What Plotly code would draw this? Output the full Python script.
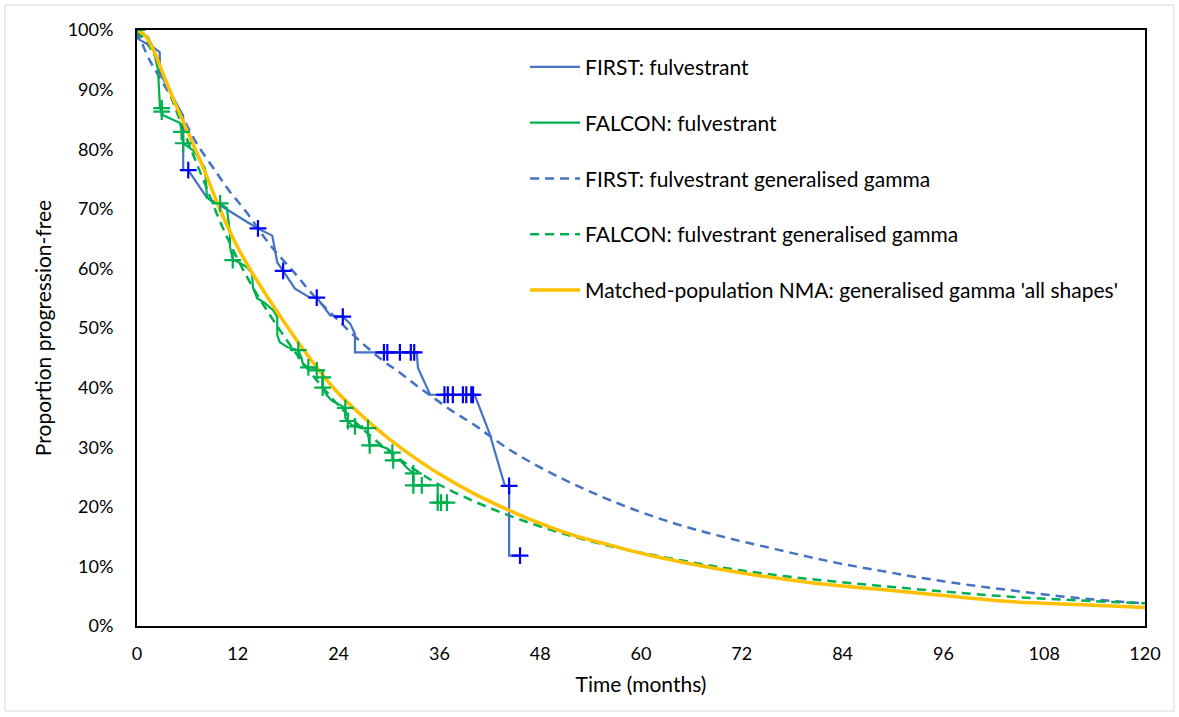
import plotly.graph_objects as go

# ---------------- data ----------------
# FIRST: fulvestrant (digitised Kaplan-Meier, months / % progression-free)
first_t = [0, 0.15, 2.1, 2.7, 2.75, 5.1, 5.5, 5.5, 6.1, 8.3, 9.9, 13.2, 14.4, 16.1, 16.7, 17.4,
           18.8, 20.6, 21.4, 23.0, 24.5, 25.4, 25.95, 25.95, 33.3, 33.45, 34.9, 40.2, 42.0, 43.8,
           44.3, 44.3, 45.6]
first_s = [100, 98.5, 96.9, 96.3, 92.7, 86.5, 85.6, 76.5, 76.5, 71.9, 70.6, 67.7, 66.7, 65.5, 61.0, 59.6,
           56.6, 55.1, 55.1, 52.1, 51.9, 50.7, 49.0, 45.9, 45.9, 43.3, 38.8, 38.8, 32.2, 23.5,
           23.5, 11.8, 11.8]
first_cens_t = [6.1, 14.4, 17.4, 21.4, 24.5, 29.4, 29.8, 31.3, 32.6, 33.0,
                36.6, 37.0, 37.6, 38.8, 39.2, 39.8, 40.0, 44.3, 45.6]
first_cens_s = [76.5, 66.7, 59.6, 55.1, 51.9, 45.9, 45.9, 45.9, 45.9, 45.9,
                38.8, 38.8, 38.8, 38.8, 38.8, 38.8, 38.8, 23.5, 11.8]

# FALCON: fulvestrant (digitised Kaplan-Meier)
falcon_t = [0, 0.7, 1.3, 1.9, 2.5, 2.74, 2.98, 3.1, 5.12, 5.36, 5.48, 6.67, 7.26, 8.1, 8.33, 9.05,
            9.88, 10.7, 11.07, 11.07, 11.43, 12.0, 13.1, 13.7, 13.8, 14.3, 15.2, 16.2, 16.7, 16.7,
            17.0, 17.9, 19.2, 19.6, 19.8, 20.4, 21.0, 21.4, 22.0, 22.1, 22.1, 22.6, 23.2, 23.9,
            24.8, 24.8, 25.1, 25.6, 25.95, 26.8, 27.5, 27.5, 27.7, 28.7, 29.8, 30.4, 30.5, 31.3,
            32.1, 32.9, 32.9, 35.8, 35.8, 36.9]
falcon_s = [100, 99.5, 98.8, 97.1, 93.3, 86.9, 86.2, 85.7, 84.4, 82.9, 81.0, 79.8, 78.7, 76.8, 71.9, 71.1,
            70.9, 70.1, 65.9, 63.6, 61.4, 61.1, 60.2, 59.2, 56.8, 55.0, 54.2, 53.0, 51.8, 48.8,
            47.6, 46.8, 46.3, 44.9, 43.8, 43.4, 43.3, 42.9, 42.6, 41.7, 40.0, 38.7, 37.8, 37.3,
            36.6, 34.9, 34.4, 33.7, 33.5, 33.2, 33.2, 32.3, 30.3, 30.3, 29.8, 29.1, 27.8, 27.8,
            26.6, 25.6, 23.6, 23.6, 20.7, 20.7]
falcon_cens_t = [0, 2.94, 2.94, 5.3, 5.5, 9.9, 11.4, 19.2, 20.4, 21.4, 22.1, 22.1, 24.8, 25.1,
                 25.95, 27.5, 27.7, 30.4, 30.5, 32.9, 32.9, 33.9, 35.8, 36.2, 36.9]
falcon_cens_s = [100, 86.9, 86.3, 82.9, 81.0, 70.9, 61.4, 46.3, 43.4, 42.9, 41.7, 40.0, 36.6, 34.4,
                 33.5, 33.2, 30.3, 29.1, 27.8, 25.6, 23.6, 23.6, 20.7, 20.7, 20.7]

# FIRST: fulvestrant generalised gamma
first_gg_t = [0, 1.3, 2.5, 4.8, 7.1, 9.5, 11, 13, 15.8, 18.6, 21, 23.8, 26, 29.3, 31.3, 33.3, 35.2,
              37.6, 40, 44, 48, 52, 56, 60, 64, 68, 72, 76, 80, 84, 88, 92, 96, 100, 104, 108,
              112, 116, 120]
first_gg_s = [100, 95.5, 92.5, 87, 81, 76, 73, 69.5, 64, 59.5, 55.5, 51.5, 48.5, 44.5, 42.5, 40.3, 38.4,
              36, 33.9, 29.9, 26.6, 23.8, 21.3, 19.1, 17.2, 15.6, 14.2, 12.9, 11.6, 10.4, 9.4, 8.4,
              7.5, 6.7, 6.0, 5.3, 4.7, 4.2, 3.8]

# FALCON: fulvestrant generalised gamma
falcon_gg_t = [0, 2, 4, 6, 8, 10, 12, 14, 16, 18, 20, 22, 24, 27, 30, 33, 36, 40, 44, 48, 52, 56, 60,
               66, 72, 80, 88, 96, 104, 112, 120]
falcon_gg_s = [100, 96, 89, 81.5, 74.5, 67.5, 61.5, 56.3, 51.8, 47.6, 43.7, 40.2, 37, 32.9, 29.3, 26.3,
               23.7, 21.0, 18.7, 16.7, 15.0, 13.5, 12.3, 10.7, 9.3, 7.9, 6.8, 5.8, 4.9, 4.3, 3.8]

# Matched-population NMA: generalised gamma 'all shapes'
nma_t = [0, 1, 2, 3, 4, 6, 8, 10, 12, 14, 16, 18, 20, 22, 24, 27, 30, 33, 36, 40, 44, 48, 52, 56, 60,
         66, 72, 80, 88, 96, 104, 112, 120]
nma_s = [100, 99, 96.5, 93, 89.5, 83, 76.5, 69.5, 63.5, 58.6, 54.2, 50, 46, 42.3, 39, 35, 31.4, 28.3,
         25.5, 22.3, 19.6, 17.2, 15.2, 13.7, 12.2, 10.4, 8.9, 7.3, 6.2, 5.1, 4.1, 3.6, 3.1]

x_ticks = [0, 12, 24, 36, 48, 60, 72, 84, 96, 108, 120]
y_ticks = [0, 10, 20, 30, 40, 50, 60, 70, 80, 90, 100]

# ---------------- style ----------------
BLUE = "#4472C4"
BLUE_MK = "#0000FF"
GREEN = "#00B050"
ORANGE = "#FFC000"
FONT = "Lato"

W, H = 1179, 717
ML, MR, MT, MB = 137, 34, 30, 91

fig = go.Figure()

fig.add_trace(go.Scatter(x=first_gg_t, y=first_gg_s, mode="lines", line_shape="spline",
                         name="FIRST: fulvestrant generalised gamma", legendrank=3, legendgroup="c",
                         line=dict(color=BLUE, width=2.5, dash="9px,6px")))
fig.add_trace(go.Scatter(x=falcon_gg_t, y=falcon_gg_s, mode="lines", line_shape="spline",
                         name="FALCON: fulvestrant generalised gamma", legendrank=4, legendgroup="d",
                         line=dict(color=GREEN, width=2.5, dash="9px,6px")))
fig.add_trace(go.Scatter(x=first_t, y=first_s, mode="lines",
                         name="FIRST: fulvestrant", legendrank=1, legendgroup="a",
                         line=dict(color=BLUE, width=2.2)))
fig.add_trace(go.Scatter(x=falcon_t, y=falcon_s, mode="lines",
                         name="FALCON: fulvestrant", legendrank=2, legendgroup="b",
                         line=dict(color=GREEN, width=2.2)))
fig.add_trace(go.Scatter(x=nma_t, y=nma_s, mode="lines", line_shape="spline",
                         name="Matched-population NMA: generalised gamma 'all shapes'", legendrank=5,
                         legendgroup="e", line=dict(color=ORANGE, width=3.5)))
fig.add_trace(go.Scatter(x=first_cens_t, y=first_cens_s, mode="markers", showlegend=False,
                         legendgroup="a",
                         marker=dict(symbol="cross-thin", size=12, line=dict(color=BLUE_MK, width=2.2))))
fig.add_trace(go.Scatter(x=falcon_cens_t, y=falcon_cens_s, mode="markers", showlegend=False,
                         legendgroup="b",
                         marker=dict(symbol="cross-thin", size=12, line=dict(color=GREEN, width=2.2))))

pw = W - ML - MR
ph = H - MT - MB
# outer chart-area border (light grey), in paper fractions
bx0, bx1 = (5 - ML) / pw, (W - 5 - ML) / pw
by1, by0 = (H - MB - 5) / ph, (H - MB - (H - 6)) / ph

fig.update_layout(
    width=W, height=H,
    margin=dict(l=ML, r=MR, t=MT, b=MB, pad=0),
    paper_bgcolor="white", plot_bgcolor="white",
    font=dict(family=FONT, size=18, color="#000000"),
    showlegend=True,
    legend=dict(x=0.385, y=0.972, xanchor="left", yanchor="top", bgcolor="rgba(0,0,0,0)",
                borderwidth=0, font=dict(family=FONT, size=21), tracegroupgap=25.5,
                traceorder="grouped", itemwidth=50),
    shapes=[dict(type="rect", xref="paper", yref="paper", x0=bx0, x1=bx1, y0=by0, y1=by1,
                 line=dict(color="#D9D9D9", width=1), layer="below")],
)
fig.update_xaxes(range=[0, 120], tickvals=x_ticks, ticktext=[str(v) for v in x_ticks],
                 showgrid=False, zeroline=False, showline=True, linecolor="black", linewidth=2,
                 mirror=True, ticks="", ticklabelstandoff=10,
                 title=dict(text="Time (months)", font=dict(size=21), standoff=15))
fig.update_yaxes(range=[0, 100], tickvals=y_ticks, ticktext=[f"{v}%" for v in y_ticks],
                 showgrid=False, zeroline=False, showline=True, linecolor="black", linewidth=2,
                 mirror=True, ticks="", ticklabelstandoff=18,
                 title=dict(text="Proportion progression-free", font=dict(size=21), standoff=10))

fig.write_html("out.html")
